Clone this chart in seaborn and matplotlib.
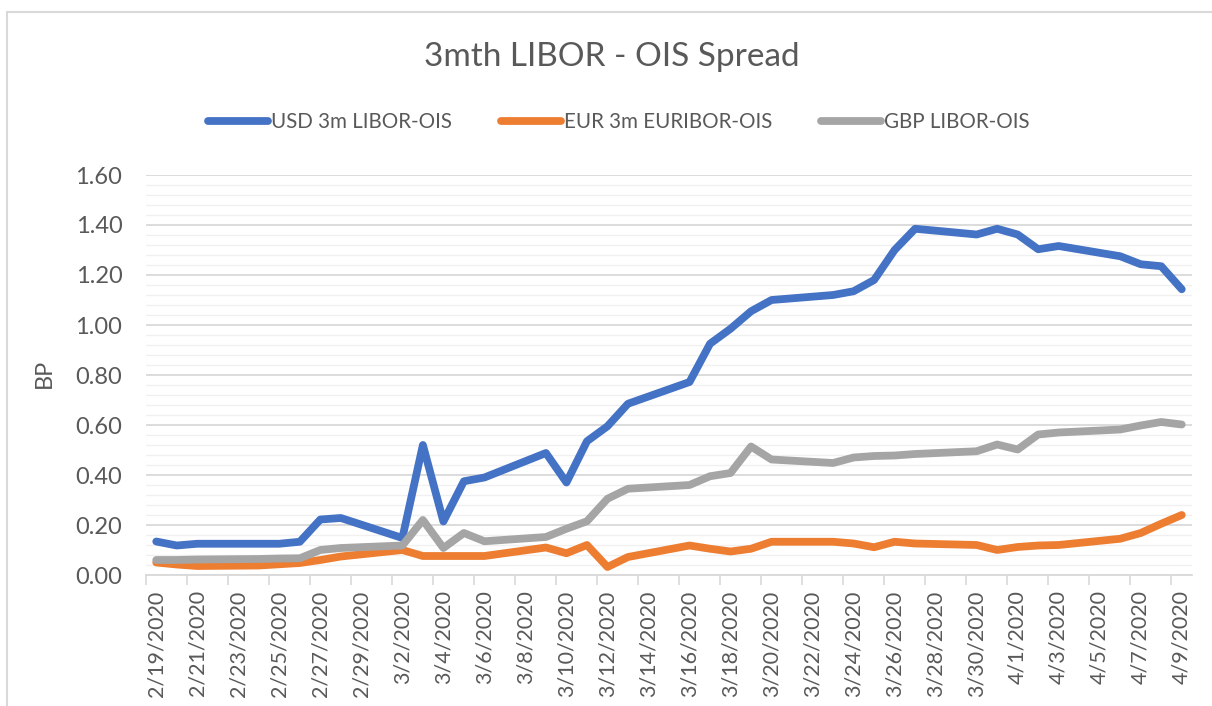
import matplotlib
matplotlib.use("Agg")
import matplotlib.pyplot as plt
import matplotlib.dates as mdates
from matplotlib.lines import Line2D
from matplotlib.ticker import MultipleLocator, FixedLocator, FixedFormatter
import seaborn as sns
import pandas as pd
import numpy as np

# ---------------- data ----------------
dates = ["2020-02-19", "2020-02-20", "2020-02-21", "2020-02-24", "2020-02-25",
         "2020-02-26", "2020-02-27", "2020-02-28", "2020-03-02", "2020-03-03",
         "2020-03-04", "2020-03-05", "2020-03-06", "2020-03-09", "2020-03-10",
         "2020-03-11", "2020-03-12", "2020-03-13", "2020-03-16", "2020-03-17",
         "2020-03-18", "2020-03-19", "2020-03-20", "2020-03-23", "2020-03-24",
         "2020-03-25", "2020-03-26", "2020-03-27", "2020-03-30", "2020-03-31",
         "2020-04-01", "2020-04-02", "2020-04-03", "2020-04-06", "2020-04-07",
         "2020-04-08", "2020-04-09"]

usd = [0.134, 0.118, 0.125, 0.125, 0.125, 0.133, 0.222, 0.228,
       0.148, 0.520, 0.214, 0.375, 0.390,
       0.488, 0.370, 0.535, 0.595, 0.685,
       0.772, 0.925, 0.985, 1.055, 1.100,
       1.120, 1.135, 1.180, 1.300, 1.385,
       1.362, 1.385, 1.362, 1.303, 1.316,
       1.275, 1.243, 1.235, 1.143]

eur = [0.050, 0.042, 0.036, 0.038, 0.043, 0.048, 0.060, 0.074,
       0.100, 0.076, 0.076, 0.076, 0.076,
       0.110, 0.087, 0.120, 0.032, 0.072,
       0.118, 0.105, 0.094, 0.105, 0.133,
       0.133, 0.126, 0.111, 0.133, 0.126,
       0.120, 0.100, 0.112, 0.118, 0.120,
       0.145, 0.168, 0.205, 0.240]

gbp = [0.060, 0.060, 0.062, 0.064, 0.066, 0.067, 0.100, 0.108,
       0.118, 0.220, 0.108, 0.168, 0.135,
       0.152, 0.185, 0.215, 0.305, 0.345,
       0.360, 0.395, 0.408, 0.514, 0.462,
       0.448, 0.470, 0.476, 0.478, 0.484,
       0.495, 0.522, 0.502, 0.562, 0.570,
       0.582, 0.598, 0.612, 0.602]

series_names = ["USD 3m LIBOR-OIS", "EUR 3m EURIBOR-OIS", "GBP LIBOR-OIS"]
colors = ["#4472C4", "#ED7D31", "#A5A5A5"]
title = "3mth LIBOR - OIS Spread"
ylabel = "BP"
x_start, x_end = "2020-02-19", "2020-04-09"

# ---------------- build frame ----------------
dt = pd.to_datetime(dates)
df = pd.concat([
    pd.DataFrame({"date": dt, "value": usd, "series": series_names[0]}),
    pd.DataFrame({"date": dt, "value": eur, "series": series_names[1]}),
    pd.DataFrame({"date": dt, "value": gbp, "series": series_names[2]}),
], ignore_index=True)
df["x"] = mdates.date2num(df["date"])

sns.set_theme(style="white")
plt.rcParams["font.family"] = ["Lato", "DejaVu Sans"]
TXT = "#595959"

W, H = 1212, 706
fig = plt.figure(figsize=(W / 100, H / 100), dpi=100)
ax = fig.add_axes([146 / W, 1 - 575 / H, (1192 - 146) / W, 400 / H])

LW = 5.6
sns.lineplot(data=df, x="x", y="value", hue="series", hue_order=series_names,
             palette=colors, linewidth=LW, ax=ax, legend=False,
             solid_joinstyle="round", solid_capstyle="round")

# ---------------- axes ----------------
xs = mdates.date2num(pd.Timestamp(x_start))
xe = mdates.date2num(pd.Timestamp(x_end))
ax.set_xlim(xs - 0.5, xe + 0.5)
ax.set_ylim(0, 1.60)

label_days = pd.date_range(x_start, x_end, freq="2D")
label_pos = mdates.date2num(label_days)
label_txt = [f"{d.month}/{d.day}/{d.year}" for d in label_days]
ax.xaxis.set_major_locator(FixedLocator(label_pos))
ax.xaxis.set_major_formatter(FixedFormatter(label_txt))
ax.xaxis.set_minor_locator(FixedLocator(label_pos - 0.5))
ax.tick_params(axis="x", which="major", length=0, pad=11, labelsize=15.5,
               labelcolor=TXT, labelrotation=90)
ax.tick_params(axis="x", which="minor", length=7, width=1.2, color="#D9D9D9",
               direction="out", bottom=True)

ax.set_yticks(np.arange(0, 1.601, 0.2))
ax.set_yticklabels([f"{v:.2f}" for v in np.arange(0, 1.601, 0.2)])
ax.yaxis.set_minor_locator(MultipleLocator(0.04))
ax.tick_params(axis="y", which="both", length=0, pad=17, labelsize=17,
               labelcolor=TXT)

ax.grid(axis="y", which="major", color="#D9D9D9", linewidth=1.3)
ax.grid(axis="y", which="minor", color="#F0F0F0", linewidth=1.0)
ax.grid(axis="x", which="both", visible=False)
ax.set_axisbelow(True)

for s in ["left", "right", "top"]:
    ax.spines[s].set_visible(False)
ax.spines["bottom"].set_color("#D9D9D9")
ax.spines["bottom"].set_linewidth(1.3)

ax.set_xlabel("")
ax.set_ylabel(ylabel, fontsize=17, color=TXT)
ax.yaxis.set_label_coords((55 - 146) / (1192 - 146), 0.505)

# ---------------- title & legend ----------------
fig.text(612 / W, 1 - 66.5 / H, title, ha="center", va="baseline",
         fontsize=24, color=TXT, fontweight="normal")

handles = [Line2D([0], [0], color=c, linewidth=LW, solid_capstyle="round")
           for c in colors]
fig.legend(handles, series_names, loc="center", ncol=3,
           bbox_to_anchor=(619 / W, 1 - 122 / H), frameon=False,
           fontsize=14.8, labelcolor=TXT, handlelength=2.9,
           handletextpad=0.15, columnspacing=2.4)

# ---------------- chart border ----------------
fig.add_artist(Line2D([7 / W, 7 / W], [0, 1 - 12 / H], color="#D9D9D9",
                      linewidth=1.5, transform=fig.transFigure))
fig.add_artist(Line2D([7 / W, 1], [1 - 12 / H, 1 - 12 / H], color="#D9D9D9",
                      linewidth=1.5, transform=fig.transFigure))

fig.savefig("out.png", dpi=100)
